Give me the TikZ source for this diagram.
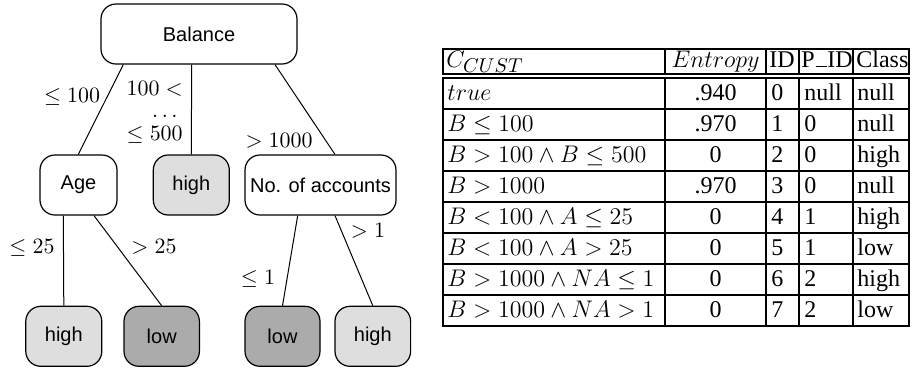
\documentclass[tikz,border=0pt]{standalone}
\usepackage[no-math]{fontspec}
\setmainfont{Liberation Serif}
\setsansfont{Liberation Sans}
\usetikzlibrary{calc}
\DeclareMathSizes{13}{13}{10}{8}
\DeclareMathSizes{12.5}{12.5}{10}{8}

\tikzset{
  tnode/.style={draw, line width=0.6pt, rounded corners=7.5pt, inner sep=0pt,
                minimum height=30pt, font=\sffamily\fontsize{10}{12}\selectfont},
  inner/.style={tnode, fill=white},
  leafhi/.style={tnode, fill=black!13},
  leaflo/.style={tnode, fill=black!33},
  edge/.style={line width=0.5pt},
  elabel/.style={inner sep=0pt, font=\fontsize{11}{13}\selectfont},
  cell/.style={inner sep=0pt, anchor=base west, font=\fontsize{12}{14}\selectfont},
  ccell/.style={cell, anchor=base},
  hcell/.style={cell, font=\fontsize{13}{15}\selectfont},
  hdrbox/.style={line width=1pt},
  hdrrule/.style={line width=0.6pt},
  bodyrule/.style={line width=1.2pt},
}

\begin{document}
\begin{tikzpicture}[x=0.5pt, y=-0.5pt]
\useasboundingbox (0,0) rectangle (912,371);

% ---------------- decision tree ----------------
\node[inner, minimum width=98pt] (bal) at (199,34) {Balance};
\node[inner, minimum width=38.5pt] (age) at (78.5,185) {Age};
\node[leafhi, minimum width=38pt] (mid) at (191.3,185) {high};
\node[inner, minimum width=75.5pt] (acc) at (320.5,185) {No. of accounts};
\node[leafhi, minimum width=38pt] (l1) at (63.8,336.3) {high};
\node[leaflo, minimum width=37.7pt] (l2) at (161.7,336.3) {low};
\node[leaflo, minimum width=37.5pt] (l3) at (282.5,336.3) {low};
\node[leafhi, minimum width=37.8pt] (l4) at (372.8,336.3) {high};

\draw[edge] ($(bal.south)+(-75.7,0)$) -- ($(age.north)+(-0.2,0)$);
\draw[edge] ($(bal.south)+(-7.3,0)$) -- (mid.north);
\draw[edge] ($(bal.south)+(76,0)$) -- ($(acc.north)+(14.5,0)$);
\draw[edge] ($(age.south)+(-15.2,0)$) -- (l1.north);
\draw[edge] ($(age.south)+(15.5,0)$) -- (l2.north);
\draw[edge] ($(acc.south)+(-22.8,0)$) -- (l3.north);
\draw[edge] ($(acc.south)+(14.5,0)$) -- (l4.north);

\node[elabel] (lb1) at (72,97) {$\leq 100$};
\node[elabel, anchor=east] (lb2a) at (183,89) {$100 <$};
\node[elabel, anchor=base east] (lb2b) at (178,117) {$\ldots$};
\node[elabel, anchor=east] (lb2c) at (183,135) {$\leq 500$};
\node[elabel] (lb3) at (279,141) {$> 1000$};
\node[elabel] (lb4) at (32,248) {$\leq 25$};
\node[elabel] (lb5) at (154,247) {$> 25$};
\node[elabel] (lb6) at (258,279) {$\leq 1$};
\node[elabel] (lb7) at (368,231) {$> 1$};

% ---------------- table ----------------
% header
\draw[hdrbox] (443,49) rectangle (909,74);
\foreach \cx in {665,766,799,853}
  \draw[hdrrule] (\cx,49) -- (\cx,74);
\node[cell, font=\fontsize{12.5}{15}\selectfont] (h1) at (446,67) {$C_{CUST}$};
\node[hcell, anchor=base] (h2) at (715.5,67) {$Entropy$};
\node[cell] (h3) at (769,67) {ID};
\node[cell] (h4) at (801,67) {P\kern.04em\rule{.45em}{.05em}\kern.04em ID};
\node[cell] (h5) at (856,67) {Class};

% body
\draw[bodyrule] (443,78) rectangle (909,326);
\foreach \ry in {109,140,171,202,233,264,295}
  \draw[bodyrule] (443,\ry) -- (909,\ry);
\foreach \cx in {665,766,799,853}
  \draw[bodyrule] (\cx,78) -- (\cx,326);

\foreach \cond/\ent/\id/\pid/\cls [count=\n from 0] in {
    {$true$}/.940/0/null/null,
    {$B \leq 100$}/.970/1/0/null,
    {$B > 100 \wedge B \leq 500$}/0/2/0/high,
    {$B > 1000$}/.970/3/0/null,
    {$B < 100 \wedge A \leq 25$}/0/4/1/high,
    {$B < 100 \wedge A > 25$}/0/5/1/low,
    {$B > 1000 \wedge NA \leq 1$}/0/6/2/high,
    {$B > 1000 \wedge NA > 1$}/0/7/2/low} {
  \pgfmathsetmacro{\by}{78+31*\n+22}
  \node[cell] (c\n) at (447,\by) {\cond};
  \node[ccell] (e\n) at (715.5,\by) {\ent};
  \node[cell] (i\n) at (771,\by) {\id};
  \node[cell] (p\n) at (804,\by) {\pid};
  \node[cell] (k\n) at (857,\by) {\cls};
}
\end{tikzpicture}
\end{document}
